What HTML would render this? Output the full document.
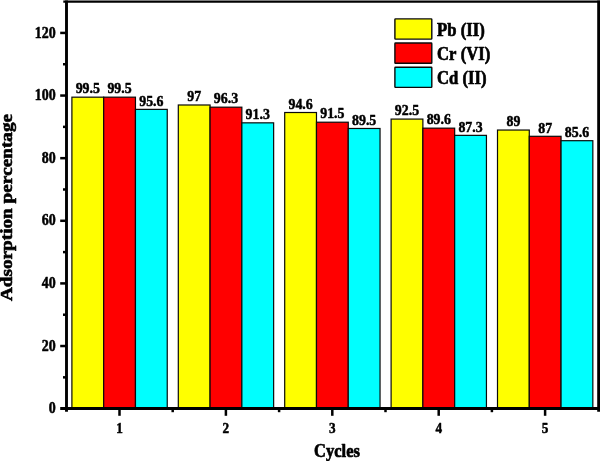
<!DOCTYPE html>
<html><head><meta charset="utf-8"><title>Adsorption percentage vs Cycles</title>
<style>html,body{margin:0;padding:0;background:#fff;}body{width:600px;height:461px;overflow:hidden;}svg{display:block;will-change:transform;}text{font-family:"Liberation Serif",serif;font-weight:bold;fill:#000;font-variant-ligatures:none;font-feature-settings:"liga" 0,"clig" 0,"dlig" 0;font-kerning:none;}</style>
</head><body>
<svg width="600" height="461" viewBox="0 0 600 461">
<rect x="0" y="0" width="600" height="461" fill="#ffffff"/>
<rect x="71.90" y="97.17" width="31.78" height="311.53" fill="#ffff00" stroke="#0a0a0a" stroke-width="1.2"/>
<rect x="103.68" y="97.17" width="31.78" height="311.53" fill="#ff0000" stroke="#0a0a0a" stroke-width="1.2"/>
<rect x="135.46" y="109.38" width="31.78" height="299.32" fill="#00ffff" stroke="#0a0a0a" stroke-width="1.2"/>
<rect x="178.30" y="104.99" width="31.78" height="303.71" fill="#ffff00" stroke="#0a0a0a" stroke-width="1.2"/>
<rect x="210.08" y="107.18" width="31.78" height="301.52" fill="#ff0000" stroke="#0a0a0a" stroke-width="1.2"/>
<rect x="241.86" y="122.84" width="31.78" height="285.86" fill="#00ffff" stroke="#0a0a0a" stroke-width="1.2"/>
<rect x="284.70" y="112.51" width="31.78" height="296.19" fill="#ffff00" stroke="#0a0a0a" stroke-width="1.2"/>
<rect x="316.48" y="122.21" width="31.78" height="286.49" fill="#ff0000" stroke="#0a0a0a" stroke-width="1.2"/>
<rect x="348.26" y="128.48" width="31.78" height="280.22" fill="#00ffff" stroke="#0a0a0a" stroke-width="1.2"/>
<rect x="391.10" y="119.08" width="31.78" height="289.62" fill="#ffff00" stroke="#0a0a0a" stroke-width="1.2"/>
<rect x="422.88" y="128.16" width="31.78" height="280.54" fill="#ff0000" stroke="#0a0a0a" stroke-width="1.2"/>
<rect x="454.66" y="135.36" width="31.78" height="273.34" fill="#00ffff" stroke="#0a0a0a" stroke-width="1.2"/>
<rect x="497.50" y="130.04" width="31.78" height="278.66" fill="#ffff00" stroke="#0a0a0a" stroke-width="1.2"/>
<rect x="529.28" y="136.30" width="31.78" height="272.40" fill="#ff0000" stroke="#0a0a0a" stroke-width="1.2"/>
<rect x="561.06" y="140.69" width="31.78" height="268.01" fill="#00ffff" stroke="#0a0a0a" stroke-width="1.2"/>
<g stroke="#000" stroke-width="2.8" fill="none" stroke-linecap="butt">
<line x1="63.3" y1="1.65" x2="600" y2="1.65" stroke-width="2.3"/>
<line x1="60.2" y1="408.45" x2="600" y2="408.45" stroke-width="3"/>
<line x1="66.5" y1="0.5" x2="66.5" y2="411.8" stroke-width="2.9"/>
<line x1="598.6" y1="0.5" x2="598.6" y2="411.8" stroke-width="2.8"/>
</g>
<g stroke="#000" stroke-width="2.5" fill="none">
<line x1="60.2" y1="346.03" x2="66" y2="346.03"/>
<line x1="60.2" y1="283.41" x2="66" y2="283.41"/>
<line x1="60.2" y1="220.79" x2="66" y2="220.79"/>
<line x1="60.2" y1="158.17" x2="66" y2="158.17"/>
<line x1="60.2" y1="95.55" x2="66" y2="95.55"/>
<line x1="60.2" y1="32.93" x2="66" y2="32.93"/>
<line x1="63" y1="377.34" x2="66" y2="377.34"/>
<line x1="63" y1="314.72" x2="66" y2="314.72"/>
<line x1="63" y1="252.10" x2="66" y2="252.10"/>
<line x1="63" y1="189.48" x2="66" y2="189.48"/>
<line x1="63" y1="126.86" x2="66" y2="126.86"/>
<line x1="63" y1="64.24" x2="66" y2="64.24"/>
<line x1="119.50" y1="408.4" x2="119.50" y2="415.8"/>
<line x1="225.90" y1="408.4" x2="225.90" y2="415.8"/>
<line x1="332.30" y1="408.4" x2="332.30" y2="415.8"/>
<line x1="438.70" y1="408.4" x2="438.70" y2="415.8"/>
<line x1="545.10" y1="408.4" x2="545.10" y2="415.8"/>
<line x1="172.70" y1="408.4" x2="172.70" y2="412.2"/>
<line x1="279.10" y1="408.4" x2="279.10" y2="412.2"/>
<line x1="385.50" y1="408.4" x2="385.50" y2="412.2"/>
<line x1="491.90" y1="408.4" x2="491.90" y2="412.2"/>
</g>
<text transform="translate(55.70 413.35) scale(0.89 1)" font-size="15.7" text-anchor="end" stroke="#000" stroke-width="0.5" stroke-linejoin="round">0</text>
<text transform="translate(55.70 350.73) scale(0.89 1)" font-size="15.7" text-anchor="end" stroke="#000" stroke-width="0.5" stroke-linejoin="round">20</text>
<text transform="translate(55.70 288.11) scale(0.89 1)" font-size="15.7" text-anchor="end" stroke="#000" stroke-width="0.5" stroke-linejoin="round">40</text>
<text transform="translate(55.70 225.49) scale(0.89 1)" font-size="15.7" text-anchor="end" stroke="#000" stroke-width="0.5" stroke-linejoin="round">60</text>
<text transform="translate(55.70 162.87) scale(0.89 1)" font-size="15.7" text-anchor="end" stroke="#000" stroke-width="0.5" stroke-linejoin="round">80</text>
<text transform="translate(55.70 100.25) scale(0.89 1)" font-size="15.7" text-anchor="end" stroke="#000" stroke-width="0.5" stroke-linejoin="round">100</text>
<text transform="translate(55.70 37.63) scale(0.89 1)" font-size="15.7" text-anchor="end" stroke="#000" stroke-width="0.5" stroke-linejoin="round">120</text>
<text transform="translate(119.50 432.90) scale(0.87 1)" font-size="15.2" text-anchor="middle" stroke="#000" stroke-width="0.5" stroke-linejoin="round">1</text>
<text transform="translate(225.90 432.90) scale(0.87 1)" font-size="15.2" text-anchor="middle" stroke="#000" stroke-width="0.5" stroke-linejoin="round">2</text>
<text transform="translate(332.30 432.90) scale(0.87 1)" font-size="15.2" text-anchor="middle" stroke="#000" stroke-width="0.5" stroke-linejoin="round">3</text>
<text transform="translate(438.70 432.90) scale(0.87 1)" font-size="15.2" text-anchor="middle" stroke="#000" stroke-width="0.5" stroke-linejoin="round">4</text>
<text transform="translate(545.10 432.90) scale(0.87 1)" font-size="15.2" text-anchor="middle" stroke="#000" stroke-width="0.5" stroke-linejoin="round">5</text>
<text transform="translate(87.79 93.37) scale(0.89 1)" font-size="15.6" text-anchor="middle" stroke="#000" stroke-width="0.5" stroke-linejoin="round">99.5</text>
<text transform="translate(119.57 93.37) scale(0.89 1)" font-size="15.6" text-anchor="middle" stroke="#000" stroke-width="0.5" stroke-linejoin="round">99.5</text>
<text transform="translate(151.35 105.58) scale(0.89 1)" font-size="15.6" text-anchor="middle" stroke="#000" stroke-width="0.5" stroke-linejoin="round">95.6</text>
<text transform="translate(194.19 101.19) scale(0.89 1)" font-size="15.6" text-anchor="middle" stroke="#000" stroke-width="0.5" stroke-linejoin="round">97</text>
<text transform="translate(225.97 103.38) scale(0.89 1)" font-size="15.6" text-anchor="middle" stroke="#000" stroke-width="0.5" stroke-linejoin="round">96.3</text>
<text transform="translate(257.75 119.04) scale(0.89 1)" font-size="15.6" text-anchor="middle" stroke="#000" stroke-width="0.5" stroke-linejoin="round">91.3</text>
<text transform="translate(300.59 108.71) scale(0.89 1)" font-size="15.6" text-anchor="middle" stroke="#000" stroke-width="0.5" stroke-linejoin="round">94.6</text>
<text transform="translate(332.37 118.41) scale(0.89 1)" font-size="15.6" text-anchor="middle" stroke="#000" stroke-width="0.5" stroke-linejoin="round">91.5</text>
<text transform="translate(364.15 124.68) scale(0.89 1)" font-size="15.6" text-anchor="middle" stroke="#000" stroke-width="0.5" stroke-linejoin="round">89.5</text>
<text transform="translate(406.99 115.28) scale(0.89 1)" font-size="15.6" text-anchor="middle" stroke="#000" stroke-width="0.5" stroke-linejoin="round">92.5</text>
<text transform="translate(438.77 124.36) scale(0.89 1)" font-size="15.6" text-anchor="middle" stroke="#000" stroke-width="0.5" stroke-linejoin="round">89.6</text>
<text transform="translate(470.55 131.56) scale(0.89 1)" font-size="15.6" text-anchor="middle" stroke="#000" stroke-width="0.5" stroke-linejoin="round">87.3</text>
<text transform="translate(513.39 126.24) scale(0.89 1)" font-size="15.6" text-anchor="middle" stroke="#000" stroke-width="0.5" stroke-linejoin="round">89</text>
<text transform="translate(545.17 132.50) scale(0.89 1)" font-size="15.6" text-anchor="middle" stroke="#000" stroke-width="0.5" stroke-linejoin="round">87</text>
<text transform="translate(576.95 136.89) scale(0.89 1)" font-size="15.6" text-anchor="middle" stroke="#000" stroke-width="0.5" stroke-linejoin="round">85.6</text>
<text transform="translate(337.00 456.70) scale(0.87 1)" font-size="19" text-anchor="middle" stroke="#000" stroke-width="0.7" stroke-linejoin="round">Cycles</text>
<text transform="translate(11.6 207.5) rotate(-90) scale(1 0.85)" font-size="19.2" text-anchor="middle" stroke="#000" stroke-width="0.7" stroke-linejoin="round">Adsorption percentage</text>
<rect x="394.9" y="18.90" width="36.9" height="20.2" fill="#ffff00" stroke="#0a0a0a" stroke-width="1.4" rx="0.6"/>
<text transform="translate(437.10 35.70) scale(0.9 1)" font-size="18.5" text-anchor="start" stroke="#000" stroke-width="0.7" stroke-linejoin="round">Pb (II)</text>
<rect x="394.9" y="43.05" width="36.9" height="20.2" fill="#ff0000" stroke="#0a0a0a" stroke-width="1.4" rx="0.6"/>
<text transform="translate(437.10 59.80) scale(0.9 1)" font-size="18.5" text-anchor="start" stroke="#000" stroke-width="0.7" stroke-linejoin="round">Cr (VI)</text>
<rect x="394.9" y="67.20" width="36.9" height="20.2" fill="#00ffff" stroke="#0a0a0a" stroke-width="1.4" rx="0.6"/>
<text transform="translate(437.10 83.90) scale(0.9 1)" font-size="18.5" text-anchor="start" stroke="#000" stroke-width="0.7" stroke-linejoin="round">Cd (II)</text>
</svg>
</body></html>
